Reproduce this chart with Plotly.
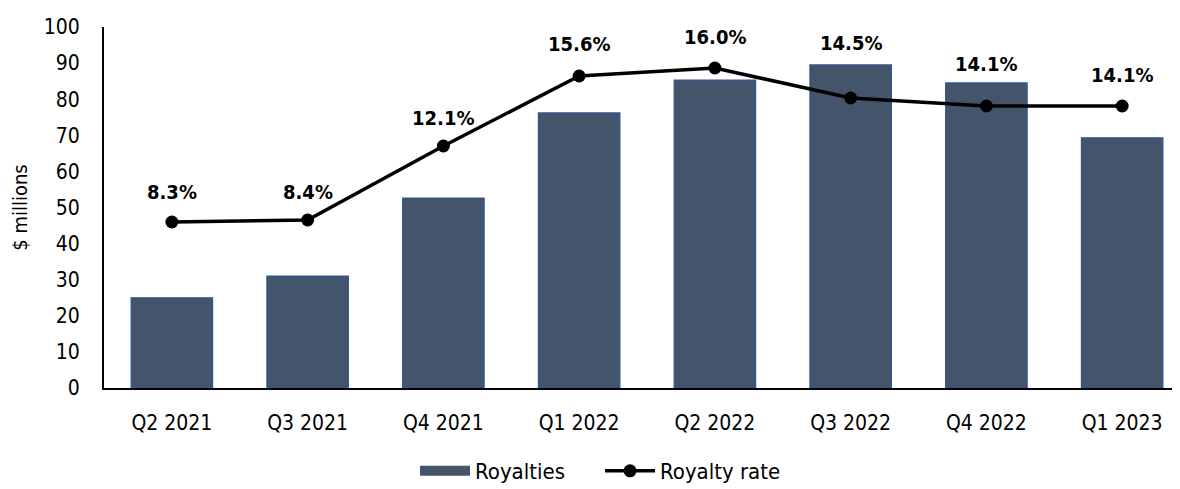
import plotly.graph_objects as go

quarters = ["Q2 2021", "Q3 2021", "Q4 2021", "Q1 2022", "Q2 2022", "Q3 2022", "Q4 2022", "Q1 2023"]
royalties = [25.0, 31.0, 52.6, 76.2, 85.3, 89.5, 84.5, 69.3]
royalty_rate = [0.083, 0.084, 0.121, 0.156, 0.160, 0.145, 0.141, 0.141]
rate_labels = ["8.3%", "8.4%", "12.1%", "15.6%", "16.0%", "14.5%", "14.1%", "14.1%"]

# label placement offsets (pixels above each point), styling only
label_shift = [30, 28, 28, 32, 31, 55, 42, 31]

FONT = "DejaVu Sans Condensed, DejaVu Sans, sans-serif"
BAR_FILL = "#44546A"
BAR_EDGE = "#2F5597"

fig = go.Figure()
fig.add_trace(go.Bar(
    x=quarters, y=royalties, name="Royalties",
    marker=dict(color=BAR_FILL, line=dict(color=BAR_EDGE, width=1.2)),
    yaxis="y", showlegend=False,
))
# legend stand-in for the bar series (wide rectangle swatch)
fig.add_trace(go.Scatter(
    x=[None], y=[None], name="Royalties", mode="lines",
    line=dict(color=BAR_FILL, width=17), yaxis="y",
))
fig.add_trace(go.Scatter(
    x=quarters, y=royalty_rate, name="Royalty rate",
    mode="lines+markers",
    line=dict(color="black", width=3.5),
    marker=dict(color="black", size=13),
    yaxis="y2", cliponaxis=False,
))

for q, r, t, s in zip(quarters, royalty_rate, rate_labels, label_shift):
    fig.add_annotation(
        x=q, y=r, xref="x", yref="y2", text=t, showarrow=False,
        yshift=s, font=dict(family=FONT, size=20, color="black", weight="bold"),
    )

fig.update_layout(
    width=1180, height=489,
    margin=dict(l=96, r=8, t=19, b=109, autoexpand=False),
    plot_bgcolor="white", paper_bgcolor="white",
    font=dict(family=FONT, size=21, color="black"),
    bargap=0.4,
    showlegend=True,
    legend=dict(orientation="h", x=0.461, xanchor="center", y=-0.23, yanchor="middle",
                font=dict(size=22), tracegroupgap=0, itemwidth=50,
                entrywidth=120, entrywidthmode="pixels"),
    xaxis=dict(showline=True, linecolor="black", linewidth=2, ticks="",
               range=[-0.5, 7.426], showgrid=False, ticklabelstandoff=15),
    yaxis=dict(range=[0, 100], dtick=10, showline=True, linecolor="black", linewidth=2,
               showgrid=False, ticks="", ticklabelstandoff=18, zeroline=False,
               title=dict(text="$ millions", font=dict(size=20), standoff=14)),
    yaxis2=dict(range=[0, 0.1805], overlaying="y", side="right", visible=False,
                showgrid=False),
)

fig.write_html("out.html")
